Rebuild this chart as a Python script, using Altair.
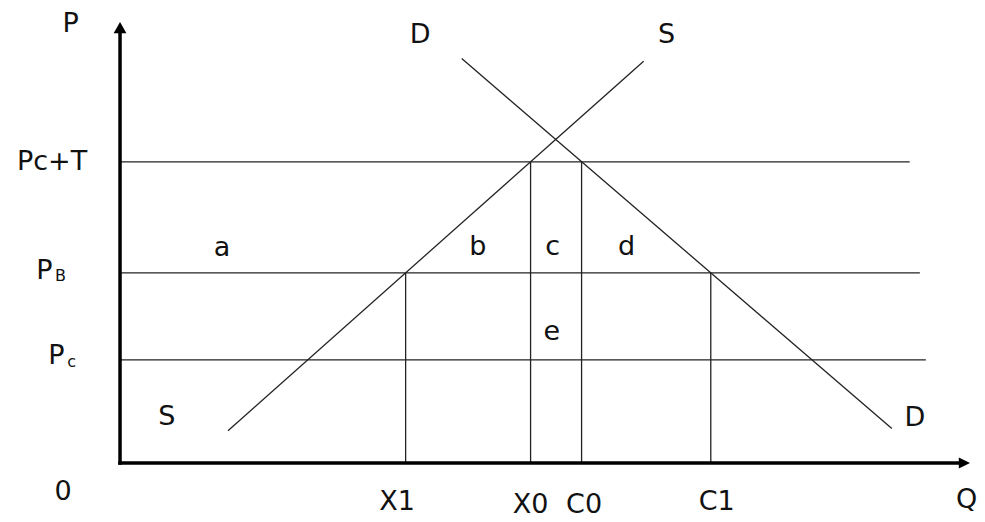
import altair as alt
import pandas as pd

# ---- data (economic units) ----
price_names = ["Pc+T", "PB", "Pc"]
price_values = [68.3, 43.1, 23.4]
price_line_ends = [92.9, 94.1, 94.8]

qty_names = ["X1", "X0", "C0", "C1"]
qty_values = [33.6, 48.3, 54.3, 69.5]
qty_tops = [43.1, 68.3, 68.3, 43.1]

supply_Q = [12.7, 61.6]
supply_P = [7.3, 91.1]
demand_Q = [40.2, 90.8]
demand_P = [91.7, 7.8]

axis_max_Q = 100.0
axis_max_P = 100.0

label_text = ["P", "Pc+T", "P", "P", "a", "b", "c", "d", "e", "S", "D", "S", "D",
              "0", "X1", "X0", "C0", "C1", "Q"]
label_Q = [-5.8, -8.0, -8.9, -7.5, 12.0, 42.1, 50.9, 59.6, 50.8, 5.5, 35.3, 64.3, 93.5,
           -6.7, 32.6, 48.3, 54.6, 70.2, 99.6]
label_P = [99.6, 68.3, 43.5, 24.3, 48.8, 49.0, 49.0, 49.0, 29.7, 10.4, 97.0, 97.0, 10.2,
           -6.6, -8.8, -9.5, -9.5, -8.8, -8.4]

sub_text = ["B", "c"]
sub_Q = [-7.0, -5.7]
sub_P = [42.5, 22.9]

# ---- tables ----
segs = []
for p, e in zip(price_values, price_line_ends):
    segs.append(dict(q=0, p=p, q2=e, p2=p))
for q, t in zip(qty_values, qty_tops):
    segs.append(dict(q=q, p=0, q2=q, p2=t))
segs.append(dict(q=supply_Q[0], p=supply_P[0], q2=supply_Q[1], p2=supply_P[1]))
segs.append(dict(q=demand_Q[0], p=demand_P[0], q2=demand_Q[1], p2=demand_P[1]))
seg_df = pd.DataFrame(segs)

axes_df = pd.DataFrame([
    dict(q=0, p=0, q2=0, p2=axis_max_P - 1.5),
    dict(q=0, p=0, q2=axis_max_Q - 1.0, p2=0),
])

arrow_up = pd.DataFrame([dict(q=0, p=axis_max_P)])
arrow_right = pd.DataFrame([dict(q=axis_max_Q, p=0)])

labels = pd.DataFrame(dict(t=label_text, q=label_Q, p=label_P))
subs = pd.DataFrame(dict(t=sub_text, q=sub_Q, p=sub_P))

xs = alt.Scale(domain=[-13.18, 100.82], nice=False, zero=False)
ys = alt.Scale(domain=[-13.38, 103.17], nice=False, zero=False)

X = lambda f: alt.X(f, type="quantitative", scale=xs, axis=None)
Y = lambda f: alt.Y(f, type="quantitative", scale=ys, axis=None)

thin = alt.Chart(seg_df).mark_rule(color="#222222", strokeWidth=1.3).encode(
    x=X("q"), y=Y("p"), x2="q2", y2="p2")

thick = alt.Chart(axes_df).mark_rule(color="#000000", strokeWidth=3.5, strokeCap="square").encode(
    x=X("q"), y=Y("p"), x2="q2", y2="p2")

up = alt.Chart(arrow_up).mark_point(
    shape="M-0.8,1.4L0.8,1.4L0,0Z", size=256, filled=True, color="#000000", opacity=1
).encode(x=X("q"), y=Y("p"))

right = alt.Chart(arrow_right).mark_point(
    shape="M0,0L-1.4,-0.7L-1.4,0.7Z", size=256, filled=True, color="#000000", opacity=1
).encode(x=X("q"), y=Y("p"))

txt = alt.Chart(labels).mark_text(
    font="DejaVu Sans", fontSize=27, color="#111111", align="center", baseline="middle"
).encode(x=X("q"), y=Y("p"), text="t")

subtxt = alt.Chart(subs).mark_text(
    font="DejaVu Sans", fontSize=16, color="#111111", align="center", baseline="middle"
).encode(x=X("q"), y=Y("p"), text="t")

chart = alt.layer(thin, thick, up, right, txt, subtxt).properties(
    width=969, height=514, padding=0, autosize=alt.AutoSizeParams(type="none")
).configure_view(stroke=None)

chart.save("out.html", embed_options={"renderer": "svg", "actions": False})
